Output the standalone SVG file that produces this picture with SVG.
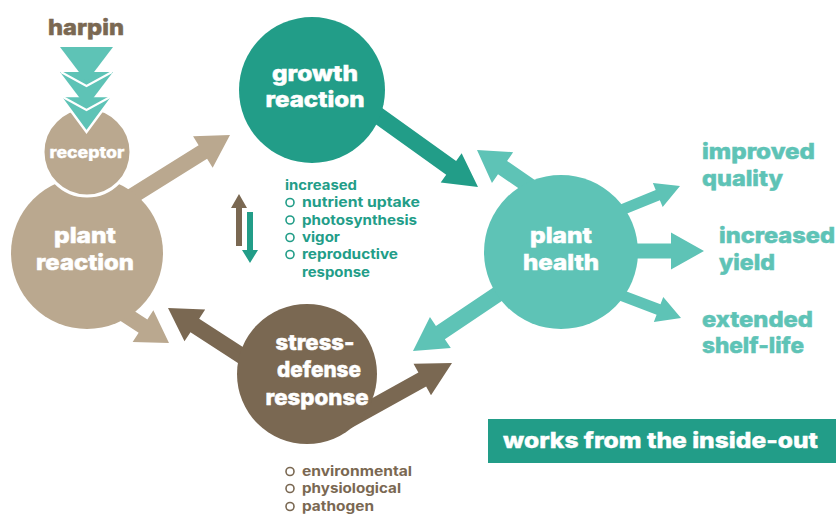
<svg xmlns="http://www.w3.org/2000/svg" width="836" height="514" viewBox="0 0 836 514">
<style>
text{font-family:Inter,"Liberation Sans",sans-serif;font-weight:800}
.big{font-size:21.5px;fill:#fff;stroke:#fff;stroke-width:0.5}
.lbl{font-size:21.5px;fill:#5EC3B6;stroke:#5EC3B6;stroke-width:0.5}
.lst{font-size:13.5px;font-weight:700}
.tan{fill:#BAA88F}
.brn{fill:#7A6852}
.dtl{fill:#229D88}
.ltl{fill:#5EC3B6}
.bul{fill:none;stroke-width:1.6}
</style>
<g id="connectors">
<polygon class="tan" transform="translate(230,135) rotate(-32)" points="-125,-8 -32,-8 -32,-18.5 0,0 -32,18.5 -32,8 -125,8"/>
<polygon class="tan" transform="translate(169,343) rotate(33)" points="-70,-8 -31,-8 -31,-19 0,0 -31,19 -31,8 -70,8"/>
<polygon class="brn" transform="translate(168,308) rotate(-147)" points="-150,-8 -32,-8 -32,-19 0,0 -32,19 -32,8 -150,8"/>
<polygon class="brn" transform="translate(452,363) rotate(-29)" points="-120,-8 -34,-8 -34,-18 0,0 -34,18 -34,8 -120,8"/>
<polygon class="dtl" transform="translate(478,187) rotate(35.6)" points="-130,-8.5 -33,-8.5 -33,-18 0,0 -33,18 -33,8.5 -130,8.5"/>
<polygon class="ltl" transform="translate(477,150) rotate(-145.5)" points="-95,-8 -31,-8 -31,-18.7 0,0 -31,18.7 -31,8 -95,8"/>
<polygon class="ltl" transform="translate(413,351) rotate(146.1)" points="-150,-8 -33,-8 -33,-18.7 0,0 -33,18.7 -33,8 -150,8"/>
<polygon class="ltl" transform="translate(680,186) rotate(-22.2)" points="-80,-5.5 -24,-5.5 -24,-13 0,0 -24,13 -24,5.5 -80,5.5"/>
<polygon class="ltl" transform="translate(704,251) rotate(0)" points="-120,-7.5 -33,-7.5 -33,-18.5 0,0 -33,18.5 -33,7.5 -120,7.5"/>
<polygon class="ltl" transform="translate(681,318) rotate(20.7)" points="-80,-5.5 -24,-5.5 -24,-13.3 0,0 -24,13.3 -24,5.5 -80,5.5"/>
<polygon class="brn" points="239,194 247,208 242,208 242,246 236,246 236,208 231,208"/>
<polygon class="dtl" points="250,263 258,250 253,250 253,212 247,212 247,250 242,250"/>
</g>
<g id="plant-reaction">
<circle class="tan" cx="87" cy="253" r="76"/>
<text class="big" x="85" y="243" text-anchor="middle" textLength="62" lengthAdjust="spacingAndGlyphs">plant</text>
<text class="big" x="85" y="270" text-anchor="middle" textLength="98" lengthAdjust="spacingAndGlyphs">reaction</text>
</g>
<g id="receptor">
<circle class="tan" cx="87" cy="152" r="44" stroke="#fff" stroke-width="3"/>
<text x="87" y="158" text-anchor="middle" font-size="15" fill="#fff" stroke="#fff" stroke-width="0.3" textLength="75" lengthAdjust="spacingAndGlyphs">receptor</text>
</g>
<g id="harpin">
<text x="86" y="35" text-anchor="middle" font-size="22" fill="#7A6852" stroke="#7A6852" stroke-width="0.5" textLength="76" lengthAdjust="spacingAndGlyphs">harpin</text>
<polygon class="ltl" points="60,96 113,96 86.5,132" stroke="#fff" stroke-width="2.5" stroke-linejoin="miter"/>
<polyline points="61,96 86.5,110 112,96" fill="none" stroke="#fff" stroke-width="2"/>
<polygon class="ltl" points="60,72 113,72 86.5,107"/>
<polyline points="61,72 86.5,86 112,72" fill="none" stroke="#fff" stroke-width="2"/>
<polygon class="ltl" points="60,47 113,47 86.5,82"/>
</g>
<g id="growth-reaction">
<circle class="dtl" cx="312" cy="90" r="73"/>
<text class="big" x="315" y="81" text-anchor="middle" textLength="86" lengthAdjust="spacingAndGlyphs">growth</text>
<text class="big" x="315" y="107" text-anchor="middle" textLength="99" lengthAdjust="spacingAndGlyphs">reaction</text>
</g>
<g id="growth-list" fill="#229D88">
<text class="lst" x="285" y="190" textLength="72" lengthAdjust="spacingAndGlyphs">increased</text>
<circle class="bul" cx="290" cy="202.5" r="4" stroke="#229D88"/>
<text class="lst" x="302" y="207" textLength="118" lengthAdjust="spacingAndGlyphs">nutrient uptake</text>
<circle class="bul" cx="290" cy="220" r="4" stroke="#229D88"/>
<text class="lst" x="302" y="225" textLength="115" lengthAdjust="spacingAndGlyphs">photosynthesis</text>
<circle class="bul" cx="290" cy="237.5" r="4" stroke="#229D88"/>
<text class="lst" x="302" y="242" textLength="38" lengthAdjust="spacingAndGlyphs">vigor</text>
<circle class="bul" cx="290" cy="254.5" r="4" stroke="#229D88"/>
<text class="lst" x="302" y="259" textLength="96" lengthAdjust="spacingAndGlyphs">reproductive</text>
<text class="lst" x="302" y="277" textLength="68" lengthAdjust="spacingAndGlyphs">response</text>
</g>
<g id="stress-defense">
<circle class="brn" cx="307" cy="374" r="70"/>
<text class="big" x="315" y="350" text-anchor="middle" textLength="79" lengthAdjust="spacingAndGlyphs">stress-</text>
<text class="big" x="319" y="377" text-anchor="middle" textLength="84" lengthAdjust="spacingAndGlyphs">defense</text>
<text class="big" x="317" y="405" text-anchor="middle" textLength="103" lengthAdjust="spacingAndGlyphs">response</text>
</g>
<g id="stress-list" fill="#7A6852">
<circle class="bul" cx="290" cy="471.5" r="4" stroke="#7A6852"/>
<text class="lst" x="302" y="476" textLength="110" lengthAdjust="spacingAndGlyphs">environmental</text>
<circle class="bul" cx="290" cy="488.5" r="4" stroke="#7A6852"/>
<text class="lst" x="302" y="493" textLength="99" lengthAdjust="spacingAndGlyphs">physiological</text>
<circle class="bul" cx="290" cy="506.5" r="4" stroke="#7A6852"/>
<text class="lst" x="302" y="511" textLength="72" lengthAdjust="spacingAndGlyphs">pathogen</text>
</g>
<g id="plant-health">
<circle class="ltl" cx="561" cy="252" r="77"/>
<text class="big" x="561" y="243" text-anchor="middle" textLength="62" lengthAdjust="spacingAndGlyphs">plant</text>
<text class="big" x="561" y="270" text-anchor="middle" textLength="76" lengthAdjust="spacingAndGlyphs">health</text>
</g>
<g id="improved-quality">
<text class="lbl" x="702" y="159" textLength="113" lengthAdjust="spacingAndGlyphs">improved</text>
<text class="lbl" x="702" y="186" textLength="81" lengthAdjust="spacingAndGlyphs">quality</text>
</g>
<g id="increased-yield">
<text class="lbl" x="719" y="243" textLength="116" lengthAdjust="spacingAndGlyphs">increased</text>
<text class="lbl" x="719" y="270" textLength="56" lengthAdjust="spacingAndGlyphs">yield</text>
</g>
<g id="extended-shelf-life">
<text class="lbl" x="702" y="327" textLength="111" lengthAdjust="spacingAndGlyphs">extended</text>
<text class="lbl" x="702" y="353" textLength="102" lengthAdjust="spacingAndGlyphs">shelf-life</text>
</g>
<g id="inside-out">
<rect x="488" y="419" width="348" height="44" fill="#229D88"/>
<text x="503" y="448" font-size="21" fill="#fff" stroke="#fff" stroke-width="0.4" textLength="315" lengthAdjust="spacingAndGlyphs">works from the inside-out</text>
</g>
</svg>
